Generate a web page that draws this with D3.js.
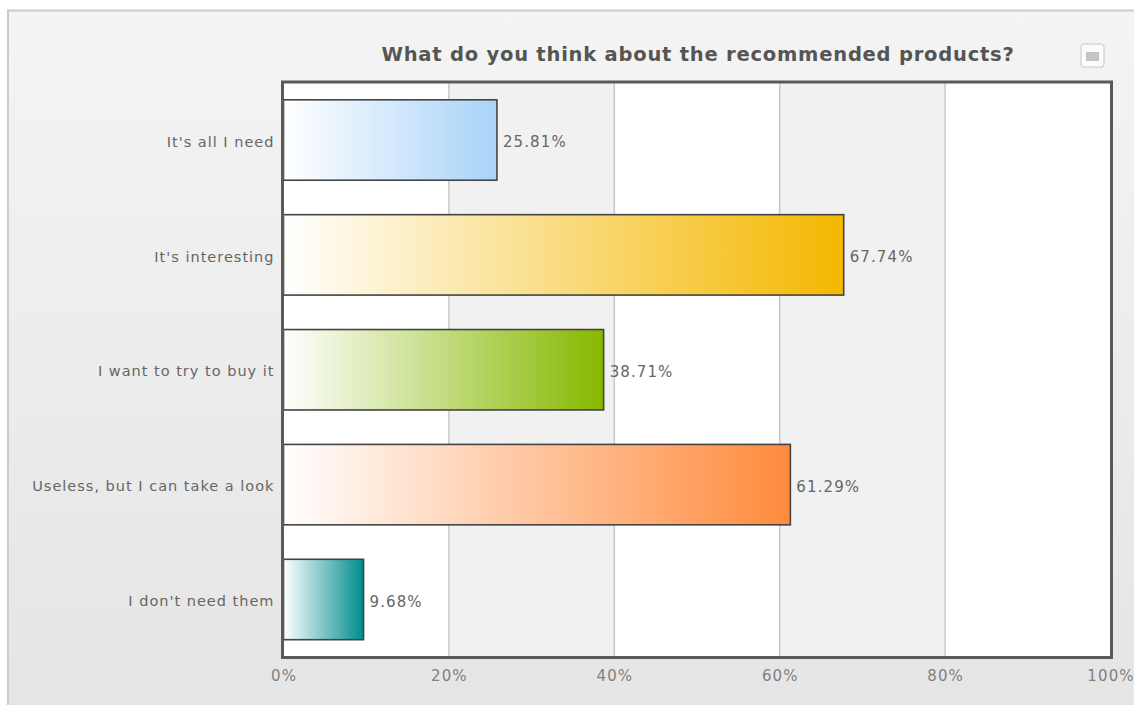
<!DOCTYPE html>
<html>
<head>
<meta charset="utf-8">
<style>
html, body { margin: 0; padding: 0; background: #fff; overflow: hidden; }
svg { display: block; font-family: "DejaVu Sans", Verdana, sans-serif; }
</style>
<script src="https://cdn.jsdelivr.net/npm/d3@7/dist/d3.min.js"></script>
</head>
<body>
<svg id="chart" width="1134" height="705"></svg>
<script>
const chartTitle = "What do you think about the recommended products?";
const categories = ["It's all I need", "It's interesting", "I want to try to buy it", "Useless, but I can take a look", "I don't need them"];
const values = [25.81, 67.74, 38.71, 61.29, 9.68];
const barColors = ["#a8d3f8", "#f4b800", "#86b800", "#ff8a3c", "#008c8c"];
const tickValues = [0, 20, 40, 60, 80, 100];

const svg = d3.select("#chart");
const defs = svg.append("defs");

const plot = { left: 282.5, right: 1111.5, top: 82, bottom: 657.5 };
const x = d3.scaleLinear().domain([0, 100]).range([283.5, 1110.5]);
const y = d3.scaleBand().domain(categories).range([plot.top, plot.bottom]).paddingInner(0.3).paddingOuter(0.155);

// Panel background fading slightly darker toward the bottom
const bg = defs.append("linearGradient").attr("id", "panel-bg").attr("x1", 0).attr("y1", 0).attr("x2", 0).attr("y2", 1);
bg.append("stop").attr("offset", "0%").attr("stop-color", "#f4f4f4");
bg.append("stop").attr("offset", "100%").attr("stop-color", "#e5e5e5");

svg.append("rect").attr("x", 8).attr("y", 10).attr("width", 1126).attr("height", 695).attr("fill", "url(#panel-bg)");
svg.append("path").attr("d", "M8,705V10.5H1134").attr("fill", "none").attr("stroke", "#cccccc").attr("stroke-width", 2);

// Alternating vertical bands behind the bars
const bands = d3.pairs(tickValues);
svg.append("g").selectAll("rect").data(bands).join("rect")
  .attr("x", d => x(d[0]))
  .attr("y", plot.top)
  .attr("width", d => x(d[1]) - x(d[0]))
  .attr("height", plot.bottom - plot.top)
  .attr("fill", (d, i) => i % 2 ? "#f1f1f1" : "#ffffff");

// Grid lines
svg.append("g").selectAll("line").data(tickValues.slice(1, -1)).join("line")
  .attr("x1", d => x(d)).attr("x2", d => x(d))
  .attr("y1", plot.top).attr("y2", plot.bottom)
  .attr("stroke", "#c8c8c8").attr("stroke-width", 1.5);

// Each bar fades from white into its own colour
barColors.forEach((c, i) => {
  const g = defs.append("linearGradient").attr("id", "bar-" + i).attr("x1", 0).attr("y1", 0).attr("x2", 1).attr("y2", 0);
  g.append("stop").attr("offset", "0%").attr("stop-color", "#ffffff");
  g.append("stop").attr("offset", "100%").attr("stop-color", c);
});

svg.append("g").selectAll("rect").data(values).join("rect")
  .attr("x", x(0))
  .attr("y", (d, i) => y(categories[i]))
  .attr("width", d => x(d) - x(0))
  .attr("height", y.bandwidth())
  .attr("fill", (d, i) => `url(#bar-${i})`)
  .attr("stroke", "#444")
  .attr("stroke-width", 1.6);

// Value labels at the end of each bar
svg.append("g").selectAll("text").data(values).join("text")
  .attr("x", d => x(d) + 6)
  .attr("y", (d, i) => y(categories[i]) + y.bandwidth() / 2 + 2)
  .attr("dy", "0.35em")
  .attr("font-size", 15)
  .attr("letter-spacing", 1.1)
  .attr("fill", "#666")
  .text(d => d.toFixed(2) + "%");

// Plot frame
svg.append("rect")
  .attr("x", plot.left).attr("y", plot.top)
  .attr("width", plot.right - plot.left).attr("height", plot.bottom - plot.top)
  .attr("fill", "none").attr("stroke", "#5a5a5a").attr("stroke-width", 3);

// Axes
const xAxis = d3.axisBottom(x).tickValues(tickValues).tickFormat(d => d + "%").tickSize(0).tickPadding(13);
const gx = svg.append("g").attr("transform", `translate(0,${plot.bottom})`).call(xAxis);
gx.select(".domain").remove();
gx.selectAll("text").attr("font-size", 15).attr("font-family", "DejaVu Sans").attr("letter-spacing", 1.1).attr("fill", "#808080");

const yAxis = d3.axisLeft(y).tickSize(0).tickPadding(8);
const gy = svg.append("g").attr("transform", `translate(${plot.left},2)`).call(yAxis);
gy.select(".domain").remove();
gy.selectAll("text").attr("font-size", 14.5).attr("font-family", "DejaVu Sans").attr("letter-spacing", 1.0).attr("fill", "#666");

// Title
svg.append("text")
  .attr("x", 698).attr("y", 61)
  .attr("text-anchor", "middle")
  .attr("font-size", 19.5).attr("font-weight", "bold").attr("letter-spacing", 0.78).attr("fill", "#555")
  .text(chartTitle);

// Export button in the corner
svg.append("rect").attr("x", 1081).attr("y", 44).attr("width", 23).attr("height", 23).attr("rx", 3)
  .attr("fill", "#fbfbfb").attr("stroke", "#c8c8c8");
svg.append("rect").attr("x", 1086).attr("y", 52).attr("width", 13).attr("height", 9).attr("fill", "#c4c4c4");
</script>
</body>
</html>
